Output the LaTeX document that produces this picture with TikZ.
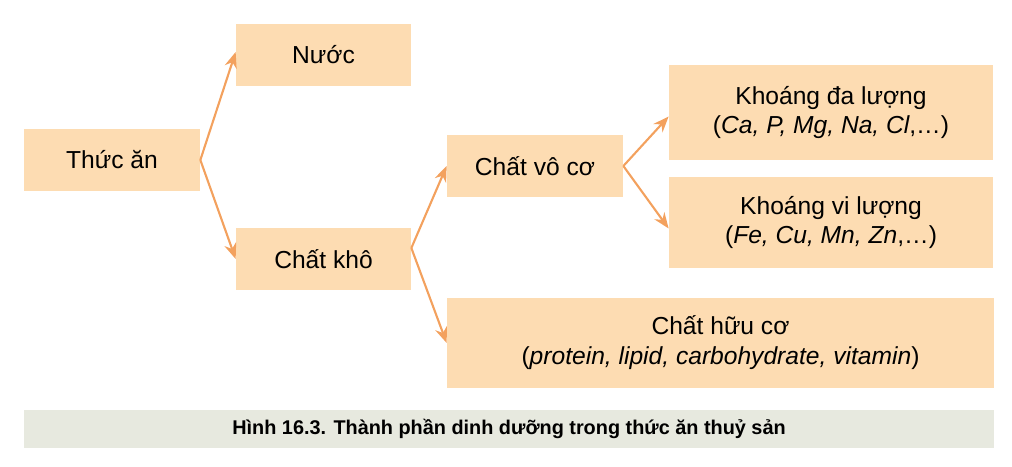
\documentclass[tikz,border=0pt]{standalone}
\usepackage{fontspec}
\setmainfont{Liberation Sans}
\usetikzlibrary{arrows.meta}

\definecolor{boxfill}{HTML}{FDDCB2}
\definecolor{arrowcol}{HTML}{F3A15E}
\definecolor{capfill}{HTML}{E7E9DF}

\tikzset{
  part/.style = {fill=boxfill, inner sep=0pt, align=center,
                 font=\fontsize{14}{17}\selectfont},
  branch/.style = {-{Stealth[length=9pt, width=7pt]}, draw=arrowcol,
                   fill=arrowcol, line width=1.2pt}
}

\begin{document}
\begin{tikzpicture}
    \useasboundingbox (0,0) rectangle (20.24,9.32);

    \node[part, minimum width=3.52cm, minimum height=1.24cm] (food) at (2.24,6.12) {Thức ăn};
    \node[part, minimum width=3.5cm, minimum height=1.24cm] (water) at (6.47,8.22) {Nước};
    \node[part, minimum width=3.5cm, minimum height=1.24cm] (dry) at (6.47,4.14) {Chất khô};
    \node[part, minimum width=3.52cm, minimum height=1.24cm] (inorg) at (10.7,6.0) {Chất vô cơ};
    \node[part, minimum width=6.48cm, minimum height=1.9cm] (macro) at (16.62,7.07)
        {Khoáng đa lượng\\(\textit{Ca, P, Mg, Na, Cl},\ldots)};
    \node[part, minimum width=6.48cm, minimum height=1.8cm] (micro) at (16.62,4.87)
        {Khoáng vi lượng\\(\textit{Fe, Cu, Mn, Zn},\ldots)};
    \node[part, minimum width=10.94cm, minimum height=1.8cm] (org) at (14.41,2.46)
        {Chất hữu cơ\\(\textit{protein, lipid, carbohydrate, vitamin})};

    \draw[branch] (food.east) -- ([yshift=0.06cm]water.west);
    \draw[branch] (food.east) -- (dry.west);
    \draw[branch] ([yshift=0.22cm]dry.east) -- (inorg.west);
    \draw[branch] ([yshift=0.22cm]dry.east) -- (org.west);
    \draw[branch] (inorg.east) -- ([yshift=-0.08cm]macro.west);
    \draw[branch] (inorg.east) -- ([yshift=-0.12cm]micro.west);

    \node[fill=capfill, minimum width=19.4cm, minimum height=0.76cm, inner sep=0pt,
          font=\bfseries\fontsize{11.3}{13}\selectfont] (caption) at (10.18,0.74)
        {Hình 16.3. Thành phần dinh dưỡng trong thức ăn thuỷ sản};
\end{tikzpicture}
\end{document}
